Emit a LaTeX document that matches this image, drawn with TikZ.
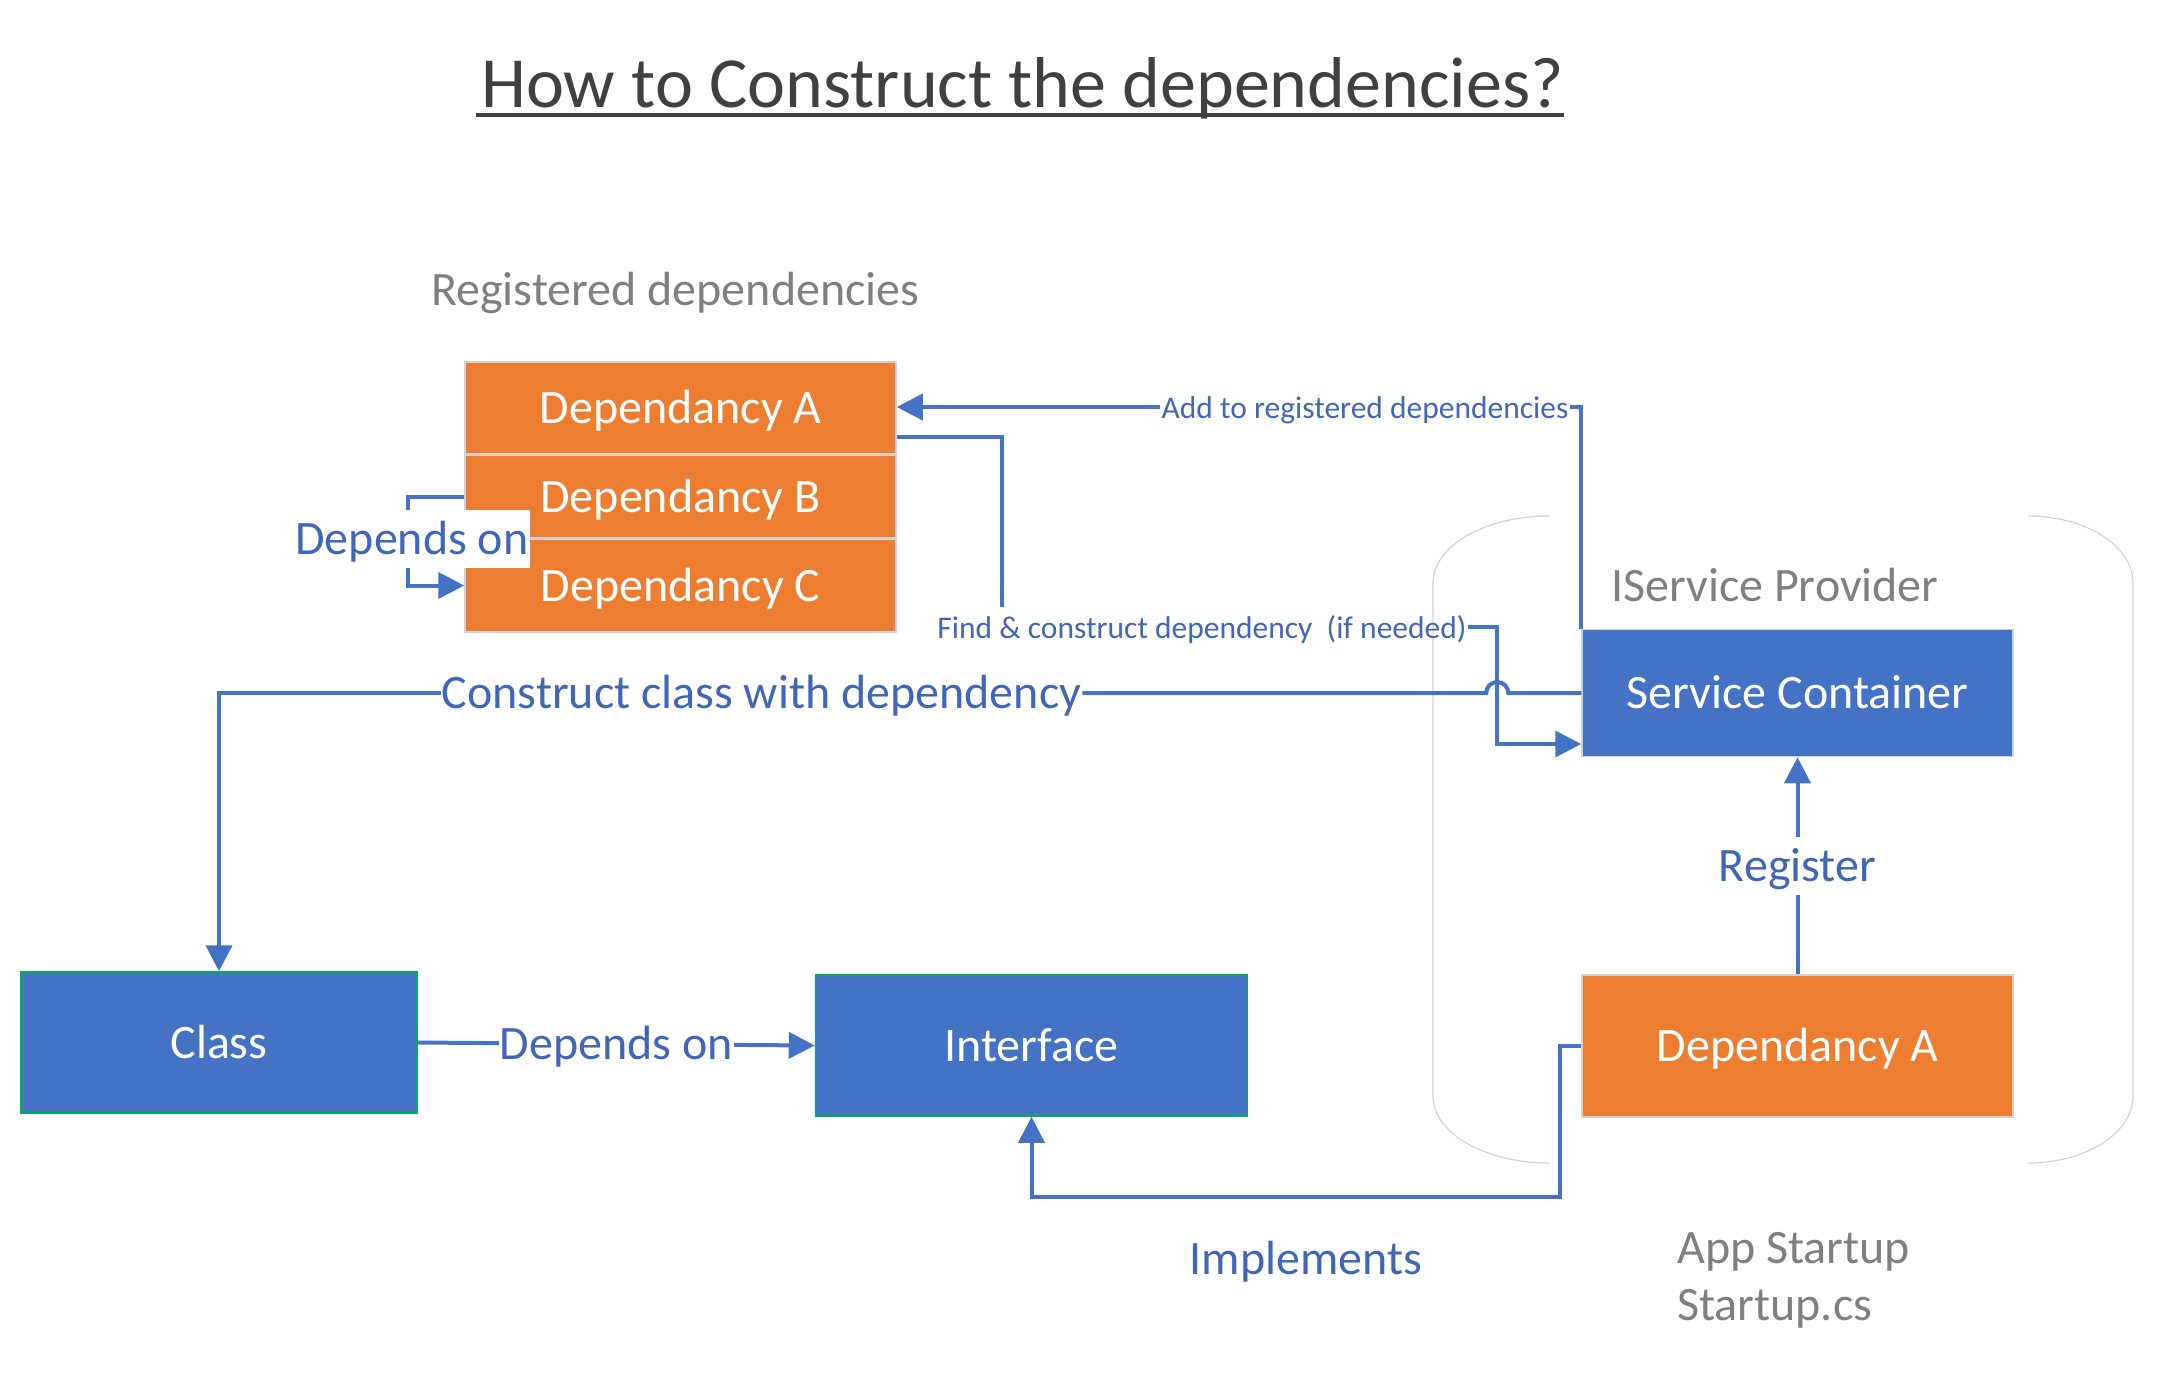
\documentclass[tikz,border=0pt]{standalone}
\usepackage{fontspec}
\setmainfont{Carlito}
\usetikzlibrary{positioning, arrows.meta}

\definecolor{boxblue}{HTML}{4472C4}
\definecolor{boxorange}{HTML}{ED7D31}
\definecolor{lineblue}{HTML}{4472C4}
\definecolor{lblblue}{HTML}{3F66B8}
\definecolor{notegray}{HTML}{7F7F7F}
\definecolor{titlegray}{HTML}{404040}
\definecolor{edgegreen}{HTML}{00B050}

\newcommand{\bigtxt}{\fontsize{48}{57}\selectfont}
\newcommand{\smalltxt}{\fontsize{31.5}{38}\selectfont}

\begin{document}
\begin{tikzpicture}[x=1pt, y=-1pt, >={Triangle[length=26pt,width=26pt]},
    bigtext/.style={font=\bigtxt, text height=41pt, text depth=9.6pt},
    smalltext/.style={font=\smalltxt, text height=29pt, text depth=6.3pt},
    box/.style={rectangle, draw=gray!35, line width=1.5pt, text=white, bigtext, inner sep=0pt, minimum width=431pt},
    orangebox/.style={box, fill=boxorange},
    bluebox/.style={box, fill=boxblue},
    classbox/.style={box, fill=boxblue, draw=edgegreen},
    lbl/.style={text=lblblue, bigtext, inner sep=1pt},
    smalllbl/.style={text=lblblue, smalltext, inner xsep=1pt, inner ysep=2pt},
    note/.style={text=notegray, font=\bigtxt, inner sep=0pt},
    conn/.style={draw=lineblue, line width=4pt}]
    \useasboundingbox (0,0) rectangle (2157,1377);

    \node[font=\fontsize{72}{86}\selectfont, text=titlegray, inner sep=0pt, anchor=base] (title) at (1022.5,107) {How to Construct the dependencies?};
    \draw[titlegray, line width=4pt] ([xshift=-5pt,yshift=-8pt]title.base west) -- ([yshift=-8pt]title.base east);

    % registered dependencies
    \node[orangebox, minimum height=92pt] (depA) at (680.5,408) {Dependancy A};
    \node[orangebox, minimum height=82pt, below=0pt of depA] (depB) {Dependancy B};
    \node[orangebox, minimum height=93pt, below=0pt of depB] (depC) {Dependancy C};
    \node[note, bigtext, anchor=west] (reglbl) at (431,290) {Registered dependencies};

    % app startup
    \draw[gray!35, line width=1.2pt] (1549,516) arc[start angle=90, end angle=180, x radius=116pt, y radius=67pt]
        -- (1433,1096) arc[start angle=180, end angle=270, x radius=116pt, y radius=67pt];
    \draw[gray!35, line width=1.2pt] (2028,516) arc[start angle=90, end angle=0, x radius=105pt, y radius=67pt]
        -- (2133,1096) arc[start angle=0, end angle=-90, x radius=105pt, y radius=67pt];
    \node[bluebox, minimum height=127pt] (sc) at (1797.5,693) {Service Container};
    \node[orangebox, minimum height=142pt, below=217pt of sc] (depA2) {Dependancy A};
    \node[note, anchor=west] (isp) at (1611,585) {IService Provider};
    \node[note, anchor=west, align=left] (startup) at (1677,1280) {App Startup\\Startup.cs};

    \node[classbox, minimum width=396pt, minimum height=141pt] (class) at (219,1042.5) {Class};
    \node[classbox, minimum width=432pt, minimum height=141pt, right=397pt of class, yshift=-3pt] (iface) {Interface};

    \node[lbl] (cons) at (761.5,693) {Construct class with dependency};
    \node[smalllbl] (addl) at (1365,407) {Add to registered dependencies};
    \node[smalllbl] (find) at (1202,627) {Find \& construct dependency\ \ (if needed)};
    \node[lbl] (impl) at (1306,1259) {Implements};

    \draw[conn] (sc.north west) |- (addl.east);
    \draw[conn,->] (addl.west) -- (addl.west -| depA.east);
    \draw[conn] ([yshift=-29pt]depA.east) -| ([xshift=66pt]find.north west);
    \draw[conn,->] (find.east) -| ([xshift=-84pt,yshift=-51pt]sc.west) -- ([yshift=-51pt]sc.west);
    \draw[conn] (sc.west) -- ++(-73,0) arc[start angle=0, end angle=180, radius=11pt] -- (cons.east);
    \draw[conn,->] (cons.west) -| (class.north);
    \draw[conn,->] (depA2.north) -- node[lbl, fill=white, minimum height=58pt] (reg) {Register} (sc.south);
    \draw[conn,->] (class.east) -- node[lbl, fill=white] (depon2) {Depends on} (iface.west);
    \draw[conn,->] (depA2.west) -- ++(-21,0) |- ([yshift=-80pt]iface.south) -- (iface.south);
    \draw[conn,->] (depB.west) -- ++(-56,0) |- (depC.west);
    \node[lbl, fill=white, minimum height=58pt] (depon1) at (412,539) {Depends on};
\end{tikzpicture}
\end{document}
